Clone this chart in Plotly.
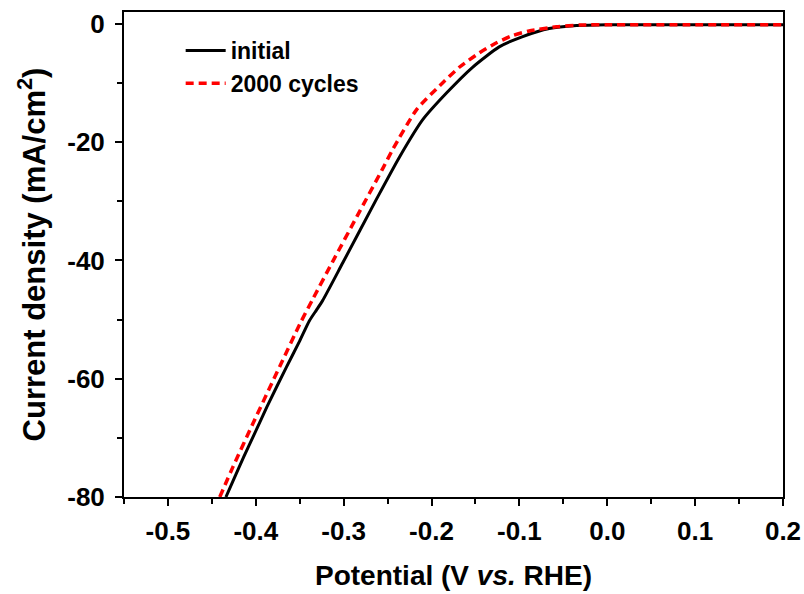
import plotly.graph_objects as go

# initial curve
x_initial = [-0.434, -0.426, -0.414, -0.403, -0.3875, -0.365, -0.350, -0.339, -0.331, -0.324,
             -0.301, -0.2625, -0.2364, -0.210, -0.183, -0.153, -0.123, -0.097, -0.066,
             -0.035, 0.0, 0.1, 0.2]
y_initial = [-80.0, -77.3, -73.3, -69.8, -64.8, -58.0, -53.6, -50.2, -48.4, -46.8,
             -40.4, -29.6, -22.5, -16.2, -11.7, -7.3, -3.9, -2.2, -0.8,
             -0.3, -0.15, -0.15, -0.15]

# after 2000 cycles
x_cycled = [-0.441, -0.426, -0.403, -0.373, -0.350, -0.335, -0.3125, -0.285, -0.256, -0.244,
            -0.217, -0.1875, -0.168, -0.1455, -0.126, -0.108, -0.089, -0.058, -0.030,
            0.0, 0.1, 0.2]
y_cycled = [-80.0, -74.9, -67.5, -58.0, -50.8, -46.5, -40.2, -32.6, -24.6, -21.2,
            -14.5, -10.0, -7.3, -4.9, -3.2, -2.0, -1.2, -0.5, -0.2,
            -0.15, -0.15, -0.15]

x_ticks = [-0.5, -0.4, -0.3, -0.2, -0.1, 0.0, 0.1, 0.2]
x_tick_labels = ["-0.5", "-0.4", "-0.3", "-0.2", "-0.1", "0.0", "0.1", "0.2"]
y_ticks = [0, -20, -40, -60, -80]
y_tick_labels = ["0", "-20", "-40", "-60", "-80"]

FONT = "Liberation Sans, Arial, sans-serif"

fig = go.Figure()
fig.add_trace(go.Scatter(x=x_initial, y=y_initial, mode="lines", name="<b>initial</b>",
                         line=dict(color="black", width=3, shape="spline", smoothing=0.6)))
fig.add_trace(go.Scatter(x=x_cycled, y=y_cycled, mode="lines", name="<b>2000 cycles</b>",
                         line=dict(color="#ff0000", width=3.5, dash="8px,5px",
                                   shape="spline", smoothing=0.6)))

axis_common = dict(
    showline=True, linecolor="black", linewidth=2, mirror=True,
    ticks="outside", ticklen=7, tickwidth=2, tickcolor="black",
    showgrid=False, zeroline=False, automargin=False,
    tickfont=dict(family=FONT, size=26, color="black"),
)

fig.update_xaxes(
    range=[-0.55, 0.2], tickvals=x_ticks, ticktext=["<b>%s</b>" % t for t in x_tick_labels],
    minor=dict(dtick=0.05, tick0=0, ticks="outside", ticklen=5, tickwidth=2, tickcolor="black"),
    ticklabelstandoff=3,
    title=dict(text="<b>Potential (V <i>vs.</i> RHE)</b>",
               font=dict(family=FONT, size=28, color="black"), standoff=20),
    **axis_common)
fig.update_yaxes(
    range=[-80, 2], tickvals=y_ticks, ticktext=["<b>%s</b>" % t for t in y_tick_labels],
    minor=dict(dtick=10, tick0=0, ticks="outside", ticklen=5, tickwidth=2, tickcolor="black"),
    ticklabelstandoff=5,
    title=dict(text="<b>Current density (mA/cm<sup>2</sup>)</b>",
               font=dict(family=FONT, size=31, color="black"), standoff=12),
    **axis_common)

fig.update_layout(
    width=804, height=594,
    margin=dict(l=124, r=21, t=12, b=97),
    plot_bgcolor="white", paper_bgcolor="white",
    showlegend=True,
    legend=dict(x=0.086, y=0.965, xanchor="left", yanchor="top",
                bgcolor="rgba(0,0,0,0)", font=dict(family=FONT, size=23, color="black"),
                tracegroupgap=0, itemwidth=40),
)

fig.write_html("out.html", config={"displayModeBar": False},
               post_script="document.body.style.margin='0';")
